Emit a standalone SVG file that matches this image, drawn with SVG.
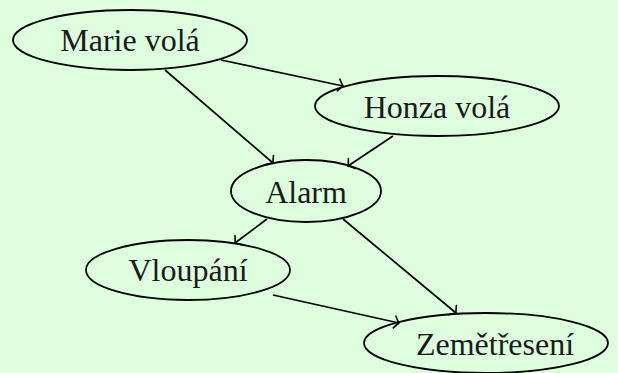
<svg xmlns="http://www.w3.org/2000/svg" width="618" height="373" viewBox="0 0 618 373">
<style>
.n ellipse{fill:none;stroke:#000;stroke-width:1.8}
.n text{font-family:"Liberation Serif","DejaVu Serif",serif;font-size:32px;fill:#1a1a1a;text-anchor:middle}
.e line{stroke:#000;stroke-width:1.7;fill:none;marker-end:url(#arr)}
</style>
<defs>
<marker id="arr" markerUnits="userSpaceOnUse" viewBox="-10 -8 12 16" refX="0" refY="0" markerWidth="12" markerHeight="16" orient="auto" overflow="visible">
<path d="M -4.5 -6 Q -1.5 -1.5 0 0 Q -1.5 1.5 -4.5 6" fill="none" stroke="#000" stroke-width="1.6" stroke-linecap="round"/>
</marker>
</defs>
<rect width="618" height="373" fill="#ddffdd"/>
<g class="e" id="connectors">
<line x1="221" y1="60" x2="343" y2="86"/>
<line x1="165" y1="70" x2="273" y2="163"/>
<line x1="393" y1="136" x2="348" y2="166"/>
<line x1="267" y1="219" x2="235" y2="243"/>
<line x1="343" y1="219" x2="456" y2="313"/>
<line x1="273" y1="295" x2="399" y2="323"/>
</g>
<g class="n" id="marie"><ellipse cx="130" cy="40" rx="117" ry="30"/><text x="130" y="51">Marie volá</text></g>
<g class="n" id="honza"><ellipse cx="437" cy="106" rx="122" ry="30"/><text x="437" y="118">Honza volá</text></g>
<g class="n" id="alarm"><ellipse cx="306" cy="191" rx="75" ry="31"/><text x="306" y="203">Alarm</text></g>
<g class="n" id="vloupani"><ellipse cx="188" cy="270" rx="102" ry="30"/><text x="188" y="281">Vloupání</text></g>
<g class="n" id="zemetreseni"><ellipse cx="486" cy="343" rx="122" ry="30"/><text x="495" y="355">Zemětřesení</text></g>
</svg>
